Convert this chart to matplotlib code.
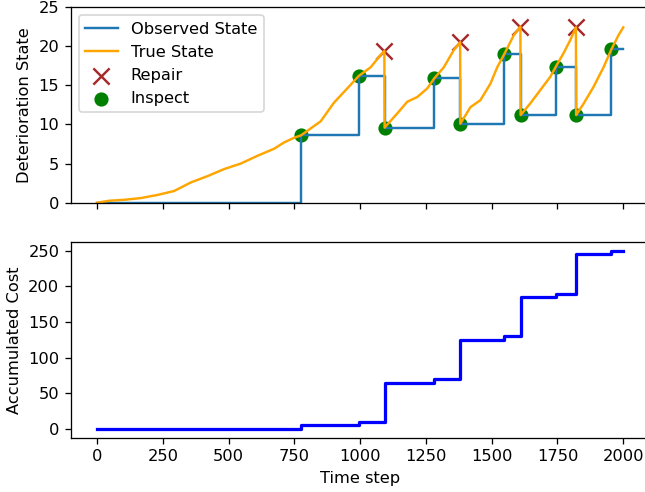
import matplotlib
matplotlib.use("Agg")
import matplotlib.pyplot as plt

# true deterioration path; repairs show as a drop between two neighbouring steps
true_t = [0, 47, 104, 167, 230, 293, 357, 420, 483, 546, 610, 673, 711, 749, 775,
          850, 901, 951, 995, 1040, 1071, 1092,
          1093, 1141, 1179, 1217, 1255, 1282, 1318, 1356, 1380,
          1381, 1419, 1457, 1495, 1521, 1548, 1584, 1609,
          1610, 1647, 1685, 1723, 1744, 1773, 1799, 1820,
          1821, 1850, 1887, 1925, 1955, 1982, 2000]
true_state = [0.0, 0.26, 0.38, 0.6, 1.0, 1.5, 2.6, 3.4, 4.3, 5.0, 6.0, 6.9, 7.7, 8.3, 8.6,
              10.4, 12.8, 14.6, 16.2, 17.3, 18.6, 19.4,
              9.6, 11.4, 12.9, 13.5, 14.6, 15.9, 17.3, 19.5, 20.5,
              10.1, 12.2, 13.1, 15.2, 17.3, 19.0, 21.4, 22.5,
              11.2, 12.7, 14.4, 16.1, 17.4, 19.1, 20.8, 22.4,
              11.2, 12.7, 14.8, 17.3, 19.6, 21.4, 22.4]

# inspections: time and observed value
inspect_t = [775, 995, 1093, 1282, 1381, 1548, 1610, 1744, 1821, 1955]
inspect_val = [8.6, 16.2, 9.6, 15.9, 10.1, 19.0, 11.2, 17.4, 11.2, 19.6]

repair_t = [1092, 1380, 1609, 1820]
repair_val = [19.4, 20.5, 22.5, 22.4]

obs_t = [0] + inspect_t + [2000]
obs_state = [0.0] + inspect_val + [19.6]

cost = [0, 5, 10, 65, 70, 125, 130, 185, 190, 245, 250, 250]

DPI = 116.7
fig, (ax1, ax2) = plt.subplots(2, 1, sharex=True, figsize=(645 / DPI, 492 / DPI), dpi=DPI)
fig.subplots_adjust(left=0.1096, right=1.0071, top=0.9858, bottom=0.1104, hspace=0.2)

ax1.step(obs_t, obs_state, where="post", color="tab:blue", linewidth=1.5, label="Observed State")
ax1.plot(true_t, true_state, color="orange", linewidth=1.5, label="True State")
ax1.scatter(repair_t, repair_val, marker="x", color="brown", s=100, linewidths=1.5, label="Repair")
ax1.scatter(inspect_t, inspect_val, marker="o", color="green", s=60, label="Inspect")
ax1.set_ylim(0, 25)
ax1.set_ylabel("Deterioration State")
ax1.legend(loc="upper left")

ax2.step(obs_t, cost, where="post", color="blue", linewidth=2)
ax2.set_ylabel("Accumulated Cost")
ax2.set_xlabel("Time step")
ax2.set_xlim(-100, 2100)

fig.savefig("out.png", dpi=DPI)
